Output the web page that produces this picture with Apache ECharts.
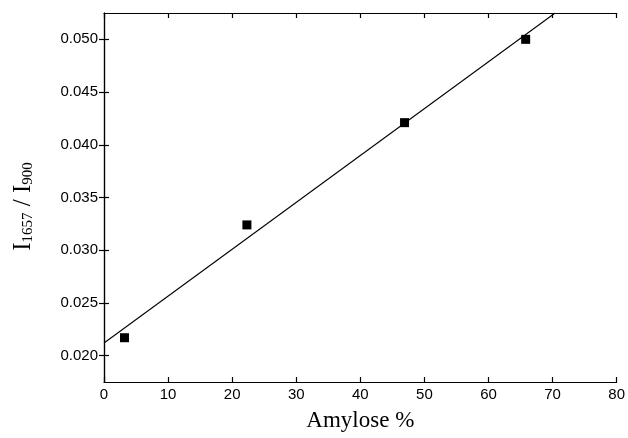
<!DOCTYPE html>
<html>
<head>
<meta charset="utf-8">
<script src="https://cdn.jsdelivr.net/npm/echarts@6/dist/echarts.min.js"></script>
<style>
  html, body { margin: 0; padding: 0; background: #fff; }
  #chart { width: 628px; height: 438px; }
</style>
</head>
<body>
<div id="chart"></div>
<script>
// measured points (amylose %, I1657/I900)
var amylose = [3.2, 22.3, 46.9, 65.8];
var ratio = [0.0217, 0.0324, 0.0421, 0.0500];

// fitted line, ends
var fitX = [0, 70.4];
var fitY = [0.0212, 0.0525];

var xTicks = [0, 10, 20, 30, 40, 50, 60, 70, 80];
var yTicks = [0.020, 0.025, 0.030, 0.035, 0.040, 0.045, 0.050];

var myChart = echarts.init(document.getElementById('chart'));

var pts = [];
for (var i = 0; i < amylose.length; i++) {
	pts.push([amylose[i], ratio[i]]);
}
var fit = [];
for (var j = 0; j < fitX.length; j++) {
	fit.push([fitX[j], fitY[j]]);
}

var lineStyle = { color: '#000', width: 1.2 };
var tickFont = { color: '#000', fontSize: 15, fontFamily: 'Liberation Sans, Arial, sans-serif' };
var serif = 'Liberation Serif, Times New Roman, serif';

var option = {
	animation: false,
	backgroundColor: '#fff',
	grid: { left: 104, right: 8, top: 13, bottom: 56 },
	xAxis: [{
		type: 'value',
		min: 0, max: 80, interval: 10,
		position: 'bottom',
		axisLine: { show: true, lineStyle: lineStyle },
		axisTick: { show: true, inside: true, length: 5, lineStyle: lineStyle },
		axisLabel: Object.assign({ margin: 5, customValues: xTicks }, tickFont),
		splitLine: { show: false },
		name: 'Amylose %',
		nameLocation: 'middle',
		nameGap: 27,
		nameTextStyle: { color: '#000', fontSize: 23, fontFamily: serif }
	}, {
		type: 'value',
		min: 0, max: 80, interval: 10,
		position: 'top',
		axisLine: { show: true, lineStyle: lineStyle },
		axisTick: { show: true, inside: true, length: 5, lineStyle: lineStyle },
		axisLabel: { show: false },
		splitLine: { show: false }
	}],
	yAxis: [{
		type: 'value',
		min: 0.0175, max: 0.0525,
		position: 'left',
		axisLine: { show: true, lineStyle: lineStyle },
		axisTick: { show: true, inside: true, length: 5, lineStyle: lineStyle, customValues: yTicks },
		axisLabel: Object.assign({
			margin: 6,
			customValues: yTicks,
			formatter: function (v) { return v.toFixed(3); }
		}, tickFont),
		splitLine: { show: false },
		name: '{i|I}{s|1657}{i| / I}{s|900}',
		nameLocation: 'middle',
		nameGap: 68,
		nameRotate: 90,
		nameTextStyle: {
			padding: [0, 18, 0, 0],
			rich: {
				i: { color: '#000', fontSize: 25, fontFamily: serif, verticalAlign: 'bottom', lineHeight: 28 },
				s: { color: '#000', fontSize: 15, fontFamily: serif, verticalAlign: 'bottom', lineHeight: 19 }
			}
		}
	}, {
		type: 'value',
		min: 0.0175, max: 0.0525,
		position: 'right',
		axisLine: { show: true, lineStyle: lineStyle },
		axisTick: { show: true, inside: true, length: 5, lineStyle: lineStyle, customValues: yTicks },
		axisLabel: { show: false },
		splitLine: { show: false }
	}],
	series: [
		{
			name: 'fit',
			type: 'line',
			data: fit,
			symbol: 'none',
			clip: true,
			lineStyle: { color: '#000', width: 1.1 }
		},
		{
			name: 'data',
			type: 'scatter',
			data: pts,
			symbol: 'rect',
			symbolSize: 9,
			itemStyle: { color: '#000', opacity: 1 }
		}
	]
};
myChart.setOption(option);
</script>
</body>
</html>
